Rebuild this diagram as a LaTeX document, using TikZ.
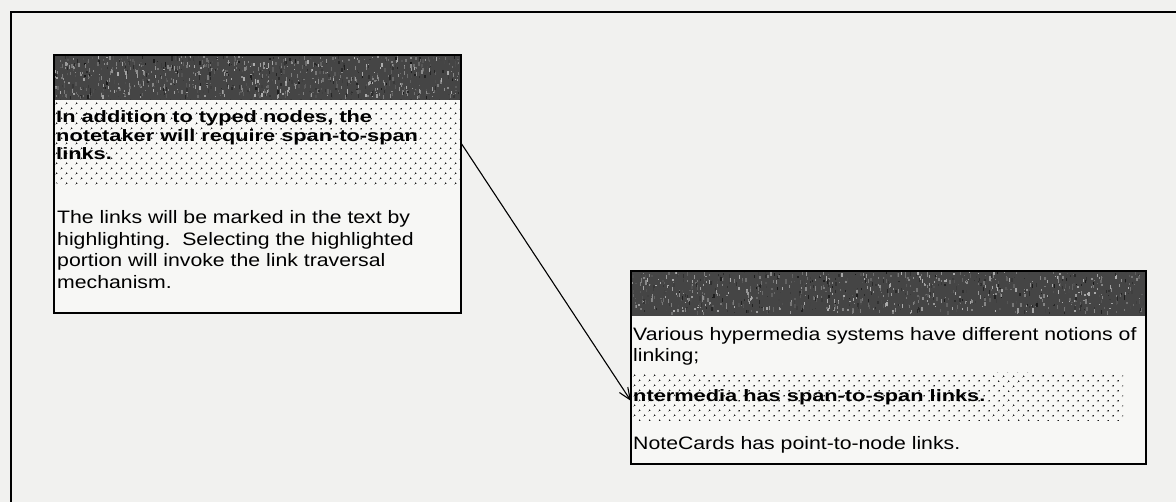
\documentclass[tikz,border=0pt]{standalone}
\usepackage{fontspec}
\setmainfont{Liberation Sans}
\newfontfamily\cardfont[FakeStretch=1.18]{Liberation Sans}
\newfontfamily\cardbold[FakeStretch=1.32]{Liberation Sans}
\usetikzlibrary{patterns.meta,arrows.meta,calc}

\definecolor{paper}{HTML}{F1F1EF}
\definecolor{cardbg}{HTML}{F7F7F5}
\definecolor{titlebar}{HTML}{454545}

% speckled texture for a card's title bar: x, y, width, height
\newcommand\cardnoise[4]{%
  \foreach \k in {1,...,900}{%
    \pgfmathsetmacro\rx{#1+rnd*(#3-2)}%
    \pgfmathsetmacro\ry{#2+rnd*(#4-4)}%
    \pgfmathsetmacro\rg{30+rnd*60}%
    \pgfmathsetmacro\rh{1+rnd*3.5}%
    \fill[black!\rg!white] (\rx,\ry) rectangle ++(1.3,\rh);
  }%
}

\tikzset{
  card/.style={draw=black, line width=1.4pt, fill=cardbg, anchor=north west,
    inner sep=0pt, outer sep=0pt},
  plain/.style={anchor=base west, inner sep=0pt,
    font=\cardfont\fontsize{18}{21.5}\selectfont},
  bolded/.style={anchor=base west, inner sep=0pt,
    font=\cardbold\bfseries\fontsize{16.5}{18.5}\selectfont},
  stipple/.style={pattern={Dots[distance=7.4pt, radius=1.05pt, angle=45]},
    pattern color=black!90},
  linkarrow/.style={line width=1.1pt,
    -{Straight Barb[length=12pt, width=10pt, line width=1.1pt]}},
}

\begin{document}
\begin{tikzpicture}[x=1pt, y=-1pt]
  \pgfmathsetseed{1987}
  \useasboundingbox (0,0) rectangle (1176,502);
  \fill[paper] (0,0) rectangle (1176,502);

  % window frame, open to the right and bottom
  \draw[line width=2pt] (11,503) -- (11,12) -- (1177,12);

  % ---- first card ----
  \node[card, minimum width=407pt, minimum height=258pt] (box1) at (54,55) {};
  \fill[titlebar] (54,55) rectangle (461,100);
  \cardnoise{54}{55}{407}{45}
  \fill[stipple] (54,100) rectangle (461,185);

  \foreach \t [count=\i] in {{In addition to typed nodes, the},
      {notetaker will require span-to-span}, {links.}}
    \node[bolded] (b1h\i) at (56,{123+18.5*(\i-1)}) {\t};
  \foreach \t [count=\i] in {{The links will be marked in the text by},
      {highlighting.\ \ Selecting the highlighted},
      {portion will invoke the link traversal}, {mechanism.}}
    \node[plain] (b1p\i) at (57,{224+21.5*(\i-1)}) {\t};
  \draw[line width=1.4pt] (box1.north west) rectangle (box1.south east);

  % ---- second card ----
  \node[card, minimum width=515pt, minimum height=193pt] (box2) at (631,271) {};
  \fill[titlebar] (631,271) rectangle (1146,316);
  \cardnoise{631}{271}{515}{45}
  \fill[stipple] (631,373) rectangle (1123,421);

  \node[plain] (b2p1) at (633,341) {Various hypermedia systems have different notions of};
  \node[plain] (b2p2) at (633,362) {linking;};
  \node[bolded] (b2h1) at (633,402) {ntermedia has span-to-span links.};
  \node[plain] (b2p3) at (633,450) {NoteCards has point-to-node links.};
  \draw[line width=1.4pt] (box2.north west) rectangle (box2.south east);

  % ---- span-to-span link ----
  \coordinate (srcspan) at ($(box1.north east)+(0,88)$);
  \coordinate (dstspan) at ($(box2.north west)+(0,130)$);
  \draw[linkarrow] (srcspan) -- (dstspan);
\end{tikzpicture}
\end{document}
